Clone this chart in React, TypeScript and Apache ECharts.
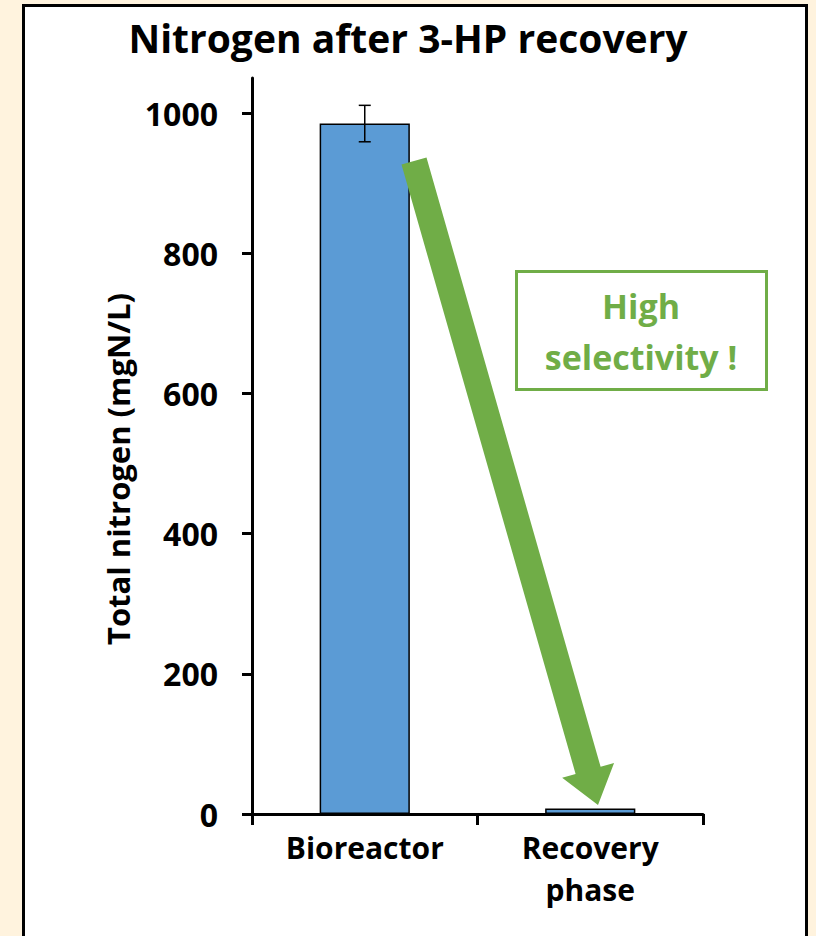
import React, { useEffect, useRef } from "react";
import * as echarts from "echarts";

const categories = ["Bioreactor", "Recovery\nphase"];
const nitrogenValues = [985, 8];
const errorValues = [26, 0];
const yTicks = [0, 200, 400, 600, 800, 1000];
const titleText = "Nitrogen after 3-HP recovery";
const yAxisTitle = "Total nitrogen (mgN/L)";
const noteLines = ["High", "selectivity !"];

const FONT = "'Open Sans', Lato, sans-serif";
const GREEN = "#70AD47";

export default function App() {
  const ref = useRef<HTMLDivElement>(null);
  useEffect(() => {
    if (!ref.current) return;
    const chart = echarts.init(ref.current, undefined, { renderer: "svg" });
    const errData = nitrogenValues
      .map((v, i) => [i, v - errorValues[i], v + errorValues[i]])
      .filter((d, i) => errorValues[i] > 0);
    // arrow annotation geometry
    const sx = 414, sy = 161, tx = 598, ty = 805;
    const dx = tx - sx, dy = ty - sy;
    const len = Math.hypot(dx, dy);
    const ux = dx / len, uy = dy / len;
    const px = -uy, py = ux;
    const shaftHalf = 13, headHalf = 27, headLen = 36;
    const bx = tx - ux * headLen, by = ty - uy * headLen;
    const arrowPts = [
      [sx + px * shaftHalf, sy + py * shaftHalf],
      [bx + px * shaftHalf, by + py * shaftHalf],
      [bx + px * headHalf, by + py * headHalf],
      [tx, ty],
      [bx - px * headHalf, by - py * headHalf],
      [bx - px * shaftHalf, by - py * shaftHalf],
      [sx - px * shaftHalf, sy - py * shaftHalf],
    ];
    chart.setOption({
      animation: false,
      backgroundColor: "#FFF3DE",
      title: {
        text: titleText,
        left: "center",
        top: 18,
        textStyle: { fontFamily: FONT, fontWeight: "bold", fontSize: 39, color: "#000" },
        padding: 0,
      },
      grid: { left: 252, right: 113, top: 78, bottom: 122, containLabel: false },
      xAxis: {
        type: "category",
        data: categories,
        axisLine: { lineStyle: { color: "#000", width: 3 } },
        axisTick: { show: true, length: 11, lineStyle: { color: "#000", width: 3 } },
        axisLabel: {
          color: "#000",
          fontFamily: FONT,
          fontWeight: "bold",
          fontSize: 30,
          lineHeight: 42,
          margin: 12,
          interval: 0,
        },
      },
      yAxis: {
        type: "value",
        min: 0,
        max: 1050,
        interval: 200,
        splitLine: { show: false },
        axisLine: { show: true, lineStyle: { color: "#000", width: 3 } },
        axisTick: { show: true, length: 10, customValues: yTicks, lineStyle: { color: "#000", width: 3 } },
        axisLabel: {
          customValues: yTicks,
          formatter: (v: number) => String(v),
          color: "#000",
          fontFamily: FONT,
          fontWeight: "bold",
          fontSize: 32,
          margin: 34,
        },
      },
      series: [
        {
          type: "bar",
          data: nitrogenValues,
          barWidth: "40%",
          itemStyle: { color: "#5B9BD5", borderColor: "#000", borderWidth: 1.5 },
        },
        {
          type: "custom",
          data: errData,
          z: 5,
          renderItem: (params: any, api: any) => {
            const x = api.value(0);
            const lo = api.coord([x, api.value(1)]);
            const hi = api.coord([x, api.value(2)]);
            const w = 6;
            const style = { stroke: "#000", lineWidth: 1.5 };
            return {
              type: "group",
              children: [
                { type: "line", shape: { x1: hi[0], y1: hi[1], x2: lo[0], y2: lo[1] }, style },
                { type: "line", shape: { x1: hi[0] - w, y1: hi[1], x2: hi[0] + w, y2: hi[1] }, style },
                { type: "line", shape: { x1: lo[0] - w, y1: lo[1], x2: lo[0] + w, y2: lo[1] }, style },
              ],
            };
          },
        },
      ],
      graphic: [
        {
          type: "rect",
          shape: { x: 23.5, y: 5.5, width: 783, height: 940 },
          style: { fill: "#fff", stroke: "#000", lineWidth: 3 },
          z: -10,
          silent: true,
        },
        {
          type: "text",
          x: 118,
          y: 469,
          rotation: Math.PI / 2,
          style: {
            text: yAxisTitle,
            fill: "#000",
            fontFamily: FONT,
            fontWeight: "bold",
            fontSize: 31,
            align: "center",
            verticalAlign: "middle",
          },
        },
        {
          type: "polygon",
          shape: { points: arrowPts },
          style: { fill: GREEN },
          z: 100,
        },
        {
          type: "rect",
          shape: { x: 516.5, y: 271.5, width: 250, height: 118 },
          style: { fill: "#fff", stroke: GREEN, lineWidth: 3 },
          z: 100,
        },
        {
          type: "text",
          x: 641,
          y: 306,
          style: {
            text: noteLines[0],
            fill: GREEN,
            fontFamily: FONT,
            fontWeight: "bold",
            fontSize: 34,
            align: "center",
            verticalAlign: "middle",
          },
          z: 101,
        },
        {
          type: "text",
          x: 641,
          y: 357,
          style: {
            text: noteLines[1],
            fill: GREEN,
            fontFamily: FONT,
            fontWeight: "bold",
            fontSize: 34,
            align: "center",
            verticalAlign: "middle",
          },
          z: 101,
        },
      ],
    });
    return () => chart.dispose();
  }, []);
  return (
    <div style={{ position: "fixed", left: 0, top: 0, width: 816, height: 936 }}>
      <div ref={ref} style={{ width: 816, height: 936 }} />
    </div>
  );
}
